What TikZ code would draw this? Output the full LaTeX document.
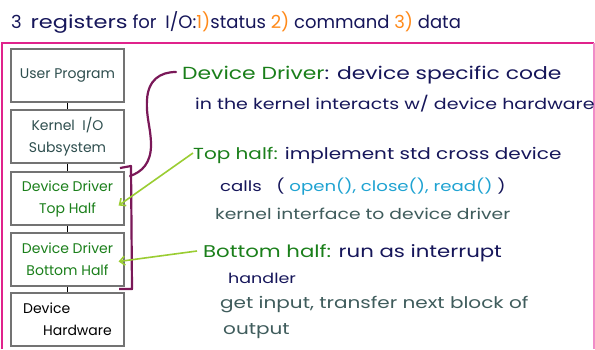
\documentclass[tikz,border=0pt]{standalone}
\usepackage{fontspec}
\setmainfont{Poppins}
\newfontfamily\wide[FakeStretch=1.25]{Poppins}
\usetikzlibrary{arrows.meta,calc}
\definecolor{navy}{HTML}{16165A}
\definecolor{leaf}{HTML}{1A7F1A}
\definecolor{lime}{HTML}{9ACD32}
\definecolor{plum}{HTML}{7A1858}
\definecolor{magenta}{HTML}{E0238C}
\definecolor{pinkline}{HTML}{F08CC8}
\definecolor{slate}{HTML}{2F4F4F}
\definecolor{slategray}{HTML}{3F5C5C}
\definecolor{skyblue}{HTML}{1FA3D2}
\definecolor{tangerine}{HTML}{FF8A1A}
\newcommand\sz[1]{\wide\fontsize{#1}{#1}\selectfont}
\tikzset{
  layer/.style={draw=black!55, line width=1.2pt, minimum width=113pt, minimum height=53pt,
    inner sep=0pt, align=center, font=\fontsize{14}{22}\selectfont},
  note/.style={anchor=base west, inner sep=0pt, text=navy},
  pointer/.style={lime, line width=1.6pt, -{Straight Barb[length=5pt,width=9pt]}},
  link/.style={black, line width=1pt}
}
\begin{document}
\begin{tikzpicture}[x=1pt,y=-1pt]
\useasboundingbox (0,0) rectangle (595,349);
\fill[white] (0,0) rectangle (595,349);

% frame
\draw[magenta, line width=2pt] (2,349) -- (2,43) -- (594,43);
\draw[pinkline, line width=1.2pt] (594,43) -- (594,349);

% heading
\node[note, font=\fontsize{18}{22}\selectfont] (title) at (11,28)
  {3\hspace{4pt} {\wide registers} for\hspace{4pt} I/O:{\color{tangerine}1)}status {\color{tangerine}2)} command {\color{tangerine}3)} data};

% layer stack
\node[layer, text=slate] (user) at (67.5,75.5) {User Program};
\node[layer, text=slate] (kio) at (67.5,136.5) {Kernel\ \ I/O\\Subsystem};
\node[layer, text=leaf] (top) at (67.5,198.5) {Device Driver\\Top Half};
\node[layer, text=leaf] (bot) at (67.5,259.5) {Device Driver\\Bottom Half};
\node[layer, text=black, align=left] (hw) at (67.5,319.5) {Device\\\hspace*{20pt}Hardware};
\draw[link] (user) -- (kio);
\draw[link] (kio) -- (top);
\draw[link] (top) -- (bot);
\draw[link] (bot) -- (hw);

% notes
\node[note, font=\sz{17.5}] (dd) at (182,79) {{\color{leaf}Device Driver}: device specific code};
\node[note, font=\sz{15.2}] (dd2) at (195,109) {in the kernel interacts w/ device hardware};
\node[note, font=\sz{16}] (th) at (193,159) {{\color{leaf}Top half:} implement std cross device};
\node[note, font=\sz{14.5}] (th2) at (220,191) {calls\ \ \ ( {\color{skyblue}open(), close(), read()} )};
\node[note, font=\sz{15}, text=slategray] (th3) at (215,219) {kernel interface to device driver};
\node[note, font=\sz{17}] (bh) at (203,257) {{\color{leaf}Bottom half:} run as interrupt};
\node[note, font=\sz{14}] (bh2) at (228,283) {handler};
\node[note, font=\sz{16}, text=slategray] (bh3) at (220,308) {get input, transfer next block of};
\node[note, font=\sz{16}, text=slategray] (bh4) at (223,334) {output};

% bracket round the driver layers
\coordinate (b0) at (176,72);
\draw[plum, line width=2.2pt, line cap=round, line join=round]
  (b0) .. controls (160,72) and (148,80) .. (147,100)
  .. controls (146,118) and (151,128) .. (151,145)
  .. controls (151,163) and (142,172) .. (130,176);
\draw[plum, line width=2.2pt, line join=round]
  (120,168) -- (131,166) -- (132,289) -- (119,289);

% arrows from notes to layers
\coordinate (thtip) at ($(top.east)+(-6,7)$);
\coordinate (bhtip) at ($(bot.east)+(-6,2)$);
\draw[pointer] ($(th.base west)+(0,-6)$) -- (thtip);
\draw[pointer] ($(bh.base west)+(-6,-6)$) -- (bhtip);
\end{tikzpicture}
\end{document}
